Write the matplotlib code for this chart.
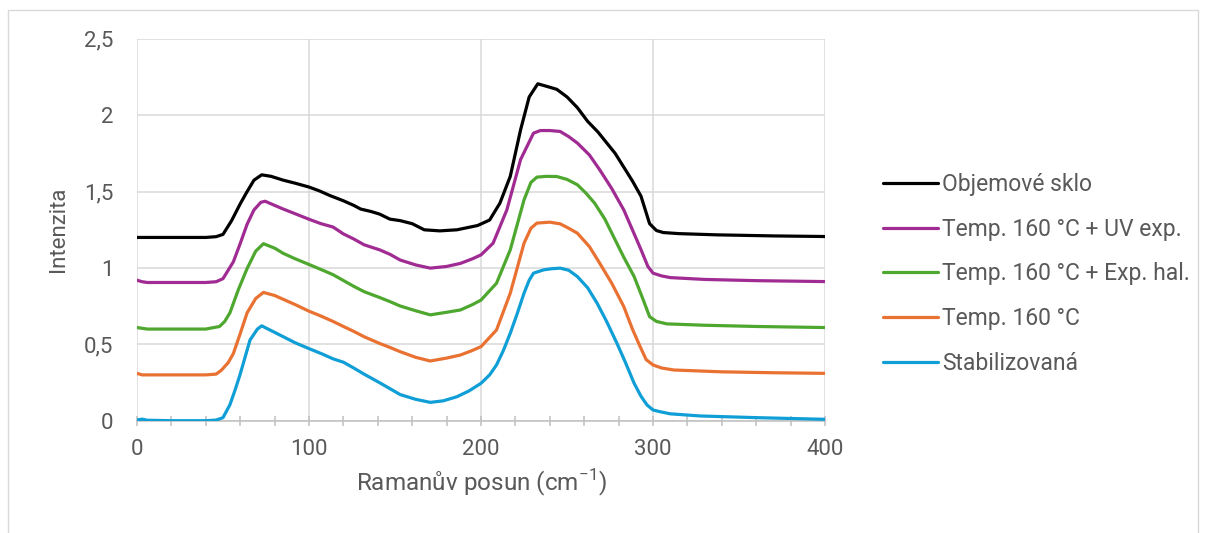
import matplotlib
matplotlib.use("Agg")
from matplotlib import pyplot as plt
from matplotlib.ticker import MultipleLocator, FixedLocator, FixedFormatter
from matplotlib.patches import Rectangle

plt.rcParams['font.family'] = ['Roboto', 'DejaVu Sans']

# values
x_black = [0, 20, 40, 46, 50, 55, 60, 64, 68, 72.5, 78, 85, 92, 100, 106, 112, 120, 126, 130, 136, 141, 147, 153,
           160, 167, 176, 186, 198, 205, 211, 217, 223, 228, 233, 238, 244, 250, 256, 262, 268, 273, 278, 283, 288,
           293, 298, 302, 306, 315, 337, 370, 400]
y_black = [1.20, 1.20, 1.20, 1.205, 1.22, 1.31, 1.42, 1.50, 1.575, 1.61, 1.60, 1.575, 1.555, 1.53, 1.505, 1.475,
           1.44, 1.41, 1.386, 1.37, 1.353, 1.32, 1.31, 1.29, 1.25, 1.243, 1.25, 1.278, 1.314, 1.425, 1.60, 1.905,
           2.12, 2.206, 2.19, 2.17, 2.12, 2.05, 1.96, 1.89, 1.82, 1.75, 1.66, 1.57, 1.47, 1.29, 1.245, 1.232, 1.225,
           1.217, 1.21, 1.206]

x_purple = [0, 3, 6, 20, 40, 46, 50, 56, 60, 64, 68, 72, 74.5, 80, 85, 92, 100, 107, 114, 120, 126, 132, 141, 147,
            153, 162, 170.5, 180, 188, 195, 200, 207, 215, 223, 230.5, 234.5, 240, 246, 251, 256, 263, 269, 276,
            283, 288, 293, 297, 300, 305, 310, 330, 360, 400]
y_purple = [0.92, 0.91, 0.905, 0.905, 0.905, 0.91, 0.93, 1.04, 1.16, 1.286, 1.38, 1.43, 1.437, 1.41, 1.386,
            1.355, 1.319, 1.29, 1.268, 1.223, 1.19, 1.152, 1.119, 1.09, 1.052, 1.02, 0.999, 1.01, 1.03, 1.06, 1.086,
            1.162, 1.38, 1.71, 1.883, 1.90, 1.90, 1.894, 1.86, 1.818, 1.74, 1.643, 1.52, 1.38, 1.25, 1.12, 1.01,
            0.966, 0.948, 0.937, 0.925, 0.917, 0.911]

x_green = [0, 3, 6, 20, 40, 48, 51, 54, 59, 64, 69, 73.5, 80, 85, 92, 100, 107, 114, 120, 126, 132, 141, 147,
           153, 162, 170.5, 180, 188, 195, 200, 209, 217, 225, 229, 232.5, 238, 244, 250, 256, 261, 266, 272, 277,
           283, 289, 294, 298, 302, 308, 330, 360, 400]
y_green = [0.61, 0.605, 0.60, 0.60, 0.60, 0.617, 0.65, 0.706, 0.86, 0.996, 1.11, 1.159, 1.13, 1.096, 1.06,
           1.023, 0.99, 0.956, 0.918, 0.88, 0.845, 0.807, 0.78, 0.751, 0.72, 0.693, 0.71, 0.725, 0.76, 0.79, 0.90,
           1.119, 1.446, 1.56, 1.595, 1.60, 1.599, 1.58, 1.545, 1.49, 1.425, 1.32, 1.206, 1.07, 0.944, 0.80, 0.681,
           0.65, 0.634, 0.625, 0.617, 0.61]

x_orange = [0, 3, 6, 20, 40, 46, 49, 53, 56, 60, 64, 69, 73.5, 80, 85, 92, 100, 107, 114, 120, 126, 132, 141,
            147, 153, 162, 170.5, 180, 188, 195, 200, 209, 217, 225, 229, 232.5, 240, 246, 251, 256, 263, 269, 276,
            283, 288, 292.5, 296, 300, 305, 312, 340, 370, 400]
y_orange = [0.31, 0.30, 0.30, 0.30, 0.30, 0.305, 0.33, 0.38, 0.439, 0.57, 0.706, 0.80, 0.84, 0.82, 0.795, 0.76,
            0.717, 0.685, 0.65, 0.617, 0.585, 0.55, 0.506, 0.48, 0.452, 0.415, 0.391, 0.41, 0.43, 0.46, 0.485,
            0.594, 0.835, 1.162, 1.26, 1.294, 1.30, 1.289, 1.26, 1.228, 1.14, 1.031, 0.90, 0.747, 0.60, 0.485, 0.40,
            0.365, 0.345, 0.332, 0.32, 0.314, 0.31]

x_blue = [0, 3, 6, 20, 40, 46, 50, 54, 57, 60, 65.7, 70, 72.5, 78, 85, 92, 100, 107, 114, 120, 126, 132, 141,
          147, 153, 162, 170.5, 178, 186, 193, 200, 205, 209, 213, 217, 221, 225, 228, 230.5, 236.5, 241, 246, 251,
          256, 262, 267.5, 273, 279, 284, 289, 293, 296.5, 300, 304, 310, 327.5, 360, 400]
y_blue = [0.005, 0.01, 0.003, 0.0, 0.0, 0.004, 0.02, 0.104, 0.20, 0.305, 0.528, 0.60, 0.621, 0.59, 0.55, 0.51,
          0.472, 0.44, 0.405, 0.383, 0.345, 0.305, 0.249, 0.21, 0.171, 0.14, 0.12, 0.13, 0.157, 0.195, 0.245,
          0.30, 0.365, 0.46, 0.573, 0.70, 0.835, 0.92, 0.966, 0.988, 0.995, 0.999, 0.985, 0.944, 0.87, 0.769, 0.65,
          0.507, 0.38, 0.245, 0.16, 0.103, 0.07, 0.059, 0.045, 0.031, 0.02, 0.009]

series = [
    ("Objemové sklo", x_black, y_black, "#000000"),
    ("Temp. 160 °C + UV exp.", x_purple, y_purple, "#A02B93"),
    ("Temp. 160 °C + Exp. hal.", x_green, y_green, "#4EA72E"),
    ("Temp. 160 °C", x_orange, y_orange, "#E97132"),
    ("Stabilizovaná", x_blue, y_blue, "#0F9ED5"),
]

y_ticks = [0, 0.5, 1, 1.5, 2, 2.5]
y_tick_labels = ["0", "0,5", "1", "1,5", "2", "2,5"]
x_ticks = [0, 100, 200, 300, 400]

fig = plt.figure(figsize=(12.08, 5.33), dpi=100)
ax = fig.add_axes([0.1134, 0.2107, 0.5696, 0.7163])

for name, xs, ys, col in series:
    ax.plot(xs, ys, color=col, lw=2.3, label=name, solid_joinstyle="round", solid_capstyle="round")

ax.set_xlim(0, 400)
ax.set_ylim(0, 2.5)
ax.xaxis.set_major_locator(FixedLocator(x_ticks))
ax.xaxis.set_minor_locator(MultipleLocator(20))
ax.yaxis.set_major_locator(FixedLocator(y_ticks))
ax.yaxis.set_major_formatter(FixedFormatter(y_tick_labels))

ax.grid(True, which="major", color="#d9d9d9", lw=1.1)
ax.set_axisbelow(True)
for s in ["top", "right", "left"]:
    ax.spines[s].set_visible(False)
ax.spines["bottom"].set_color("#bfbfbf")
ax.spines["bottom"].set_linewidth(1.1)
ax.spines["bottom"].set_zorder(1)

ax.tick_params(axis="x", which="both", direction="inout", length=7, width=1.1, color="#bfbfbf",
               labelsize=16, labelcolor="#595959", pad=10)
ax.tick_params(axis="y", length=0, labelsize=16, labelcolor="#595959", pad=17)

ax.set_xlabel(r"Ramanův posun (cm$^{\mathregular{-1}}$)", fontsize=17.5, color="#595959", labelpad=5)
ax.set_ylabel("Intenzita", fontsize=16, color="#595959", labelpad=11)

leg = ax.legend(loc="center left", bbox_to_anchor=(1.0843, 0.3844), frameon=False, fontsize=16.5,
                handlelength=2.4, handletextpad=0.17, labelspacing=0.94, borderpad=0, borderaxespad=0)
for t in leg.get_texts():
    t.set_color("#595959")

fig.patches.append(Rectangle((8 / 1208, -0.05), 1190 / 1208, 1.05 - 10 / 533, transform=fig.transFigure,
                             fill=False, edgecolor="#d9d9d9", lw=1.0))

fig.savefig("out.png", dpi=100)
